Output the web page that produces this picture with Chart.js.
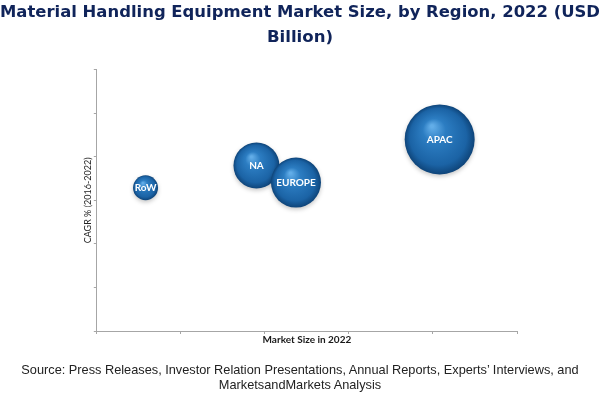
<!DOCTYPE html>
<html>
<head>
<meta charset="utf-8">
<script src="https://cdn.jsdelivr.net/npm/chart.js@4.4.1/dist/chart.umd.min.js"></script>
<style>
html,body{margin:0;padding:0;background:#fff;}
#wrap{position:relative;width:600px;height:396px;}
#c{position:absolute;left:0;top:0;}
#src{position:absolute;left:0;top:362px;width:600px;text-align:center;font-family:"Liberation Sans Narrow","Liberation Sans",Arial,sans-serif;font-size:12.75px;line-height:15px;color:#222;}
</style>
</head>
<body>
<div id="wrap">
<canvas id="c" width="600" height="396"></canvas>
<div id="src">Source: Press Releases, Investor Relation Presentations, Annual Reports, Experts’ Interviews, and<br>MarketsandMarkets Analysis</div>
</div>
<script>
// Data
const regions = ["RoW", "NA", "EUROPE", "APAC"];
const marketSize = [0.58, 1.90, 2.37, 4.08];   // x: Market Size in 2022 (relative)
const cagr = [3.29, 3.80, 3.41, 4.40];         // y: CAGR % (2016-2022) (relative)
const bubbleSize = [12.5, 23, 25, 35];         // bubble radius
const titleLines = ["Material Handling Equipment Market Size, by Region, 2022 (USD", "Billion)"];
const xTitle = "Market Size in 2022";
const yTitle = "CAGR % (2016-2022)";

const points = regions.map((r, i) => ({x: marketSize[i], y: cagr[i], r: bubbleSize[i], label: r}));

function sphereFill(ctx) {
  const chart = ctx.chart;
  const raw = ctx.raw;
  if (!raw || !chart.scales || !chart.scales.x || !chart.scales.y) return '#1f6aa8';
  const x = chart.scales.x.getPixelForValue(raw.x);
  const y = chart.scales.y.getPixelForValue(raw.y);
  const r = raw.r;
  if (![x, y, r].every(Number.isFinite)) return '#1f6aa8';
  const g = chart.ctx.createRadialGradient(x - r*0.22, y - r*0.38, r*0.04, x, y, r);
  g.addColorStop(0, '#62ade8');
  g.addColorStop(0.3, '#2c7dc2');
  g.addColorStop(0.8, '#1b63a5');
  g.addColorStop(1, '#0e4479');
  return g;
}

const labelPlugin = {
  id: 'bubbleLabels',
  afterDatasetsDraw(chart) {
    const c = chart.ctx;
    const meta = chart.getDatasetMeta(0);
    c.save();
    c.fillStyle = '#ffffff';
    c.textAlign = 'center';
    c.textBaseline = 'middle';
    c.font = 'bold 10px Lato, "Open Sans", sans-serif';
    meta.data.forEach((el, i) => {
      c.fillText(regions[i], el.x, el.y);
    });
    c.restore();
  }
};

const shadowPlugin = {
  id: 'bubbleShadow',
  beforeDatasetDraw(chart) {
    chart.ctx.save();
    chart.ctx.shadowColor = 'rgba(0,0,0,0.22)';
    chart.ctx.shadowBlur = 4;
    chart.ctx.shadowOffsetY = 2;
  },
  afterDatasetDraw(chart) {
    chart.ctx.restore();
  }
};

new Chart(document.getElementById('c'), {
  type: 'bubble',
  data: {
    datasets: [{
      data: points,
      backgroundColor: sphereFill,
      hoverBackgroundColor: sphereFill,
      borderWidth: 0,
      hoverBorderWidth: 0
    }]
  },
  options: {
    responsive: false,
    animation: false,
    clip: false,
    layout: {padding: {left: 0, right: 0, top: 0, bottom: 50}},
    plugins: {
      legend: {display: false},
      tooltip: {enabled: false},
      title: {
        display: true,
        text: titleLines,
        color: '#10245a',
        font: {family: '"DejaVu Sans", sans-serif', size: 16.6, weight: 'bold', lineHeight: 1.5},
        padding: {top: 0, bottom: 20}
      }
    },
    scales: {
      x: {
        type: 'linear', min: 0, max: 5,
        ticks: {display: false, stepSize: 1},
        grid: {drawOnChartArea: false, drawTicks: true, tickLength: 3, color: '#a6a6a6'},
        border: {color: '#a6a6a6', width: 1},
        title: {display: true, text: xTitle, color: '#1a1a1a', font: {family: 'Lato, "Open Sans", sans-serif', size: 10, weight: 'bold', lineHeight: 1.2}, padding: 0}
      },
      y: {
        type: 'linear', min: 0, max: 6,
        ticks: {display: false, stepSize: 1},
        grid: {drawOnChartArea: false, drawTicks: true, tickLength: 3, color: '#a6a6a6'},
        border: {color: '#a6a6a6', width: 1},
        title: {display: true, text: yTitle, color: '#222', font: {family: 'Lato, "Open Sans", sans-serif', size: 9, lineHeight: 1.2}, padding: {top: 83, bottom: 0}}
      },
      yr: {
        type: 'linear', position: 'right', display: true,
        ticks: {display: false},
        grid: {display: false, drawTicks: false},
        border: {display: false},
        afterFit(scale) { scale.width = 83; }
      }
    }
  },
  plugins: [shadowPlugin, labelPlugin]
});
</script>
</body>
</html>
